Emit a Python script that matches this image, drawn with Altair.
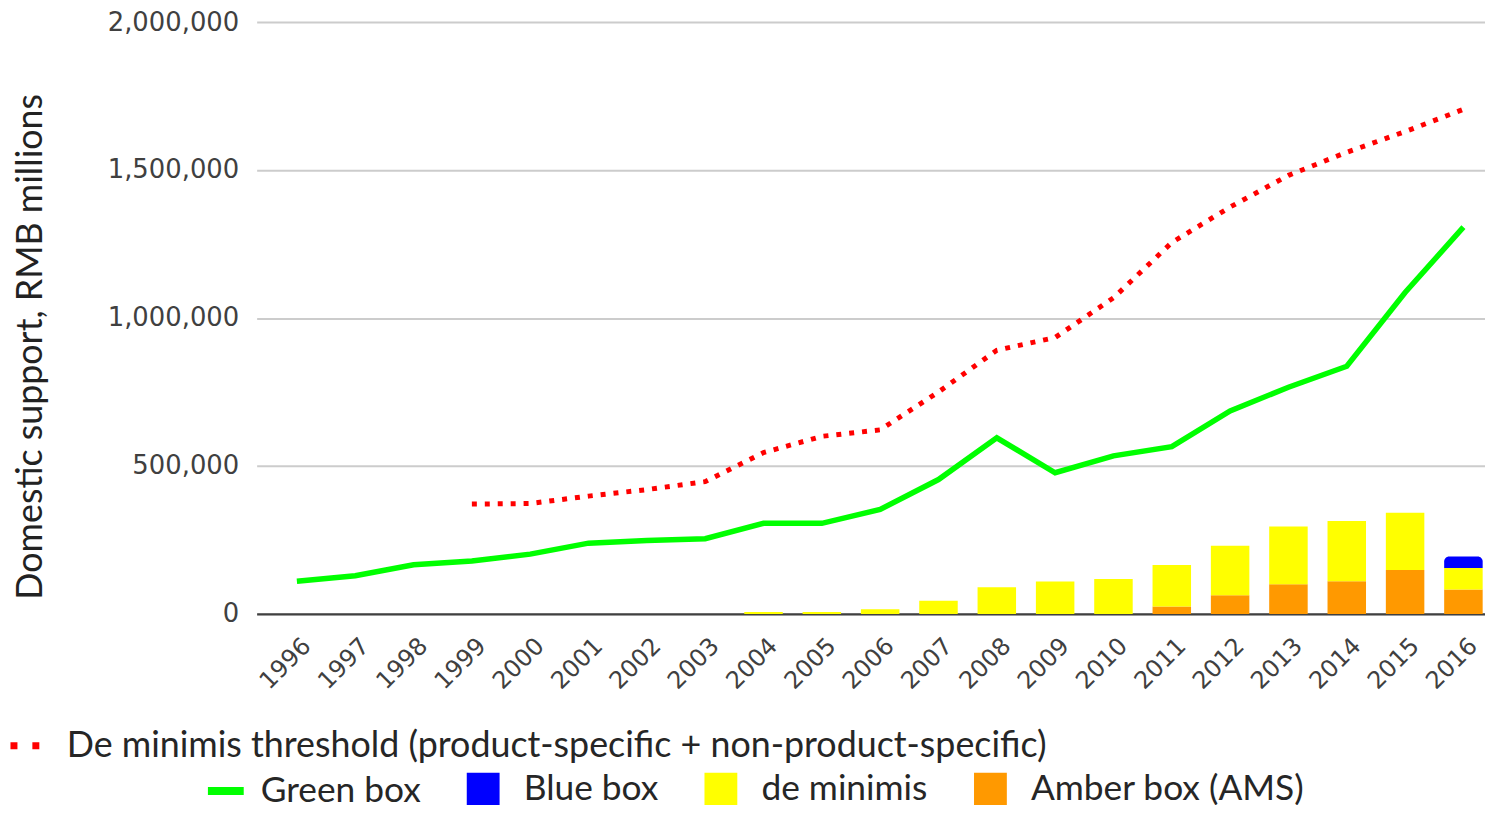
import altair as alt
import pandas as pd

# ---------------- data (RMB millions) ----------------
years = [str(y) for y in range(1996, 2017)]

green_box = [110000, 129000, 166000, 179000, 202000, 239000, 248000, 254000,
             306000, 306000, 353000, 454000, 595000, 477000, 534000, 565000,
             686000, 766000, 837000, 1086000, 1307000]

threshold_years = [str(y) for y in range(1999, 2017)]
threshold = [371000, 373000, 398000, 420000, 447000, 545000, 600000, 622000,
             750000, 891000, 934000, 1068000, 1255000, 1375000, 1482000,
             1560000, 1630000, 1705000]

bar_years = [str(y) for y in range(2004, 2017)]
de_minimis = [6000, 6000, 16000, 44000, 90000, 109000, 118000, 140000,
              167000, 195000, 204000, 194000, 73000]
amber_box = [0, 0, 0, 0, 0, 0, 0, 25000, 63000, 100000, 110000, 148000, 82000]
blue_box = [0, 0, 0, 0, 0, 0, 0, 0, 0, 0, 0, 0, 39000]

y_ticks = [0, 500000, 1000000, 1500000, 2000000]

THR = "De minimis threshold (product-specific + non-product-specific)"
GREEN = "Green box"
BLUE = "Blue box"
DEMIN = "de minimis"
AMBER = "Amber box (AMS)"

# ---------------- tables ----------------
green_df = pd.DataFrame({"year": years, "value": green_box, "series": GREEN})
thr_df = pd.DataFrame({"year": threshold_years, "value": threshold, "series": THR})

rows = []
for yr, a, d, b in zip(bar_years, amber_box, de_minimis, blue_box):
    for name, val, order in ((AMBER, a, 0), (DEMIN, d, 1), (BLUE, b, 2)):
        if val > 0:
            rows.append({"year": yr, "series": name, "value": val, "order": order})
bar_df = pd.DataFrame(rows)

FONT_TICK = "DejaVu Sans"
FONT_TEXT = "Lato"

x_enc = alt.X(
    "year:O",
    sort=years,
    scale=alt.Scale(domain=years, paddingInner=0.34, paddingOuter=0.2,
                    align=0.9, round=False),
    axis=alt.Axis(
        title=None,
        labelAngle=-45,
        labelAlign="right",
        labelBaseline="top",
        labelPadding=20,
        labelOffset=2,
        ticks=False,
        domainColor="#404040",
        domainWidth=2.5,
        labelFont=FONT_TICK,
        labelFontSize=24,
        labelColor="#404040",
        grid=False,
    ),
)

y_scale = alt.Scale(domain=[0, 2000000], nice=False)
y_axis = alt.Axis(
    title="Domestic support, RMB millions",
    values=y_ticks,
    format=",d",
    domain=False,
    ticks=False,
    grid=True,
    gridColor="#CCCCCC",
    gridWidth=2,
    labelFont=FONT_TICK,
    labelFontSize=26,
    labelColor="#404040",
    labelPadding=18,
    titleFont=FONT_TEXT,
    titleFontSize=36,
    titleFontWeight="normal",
    titleColor="#222222",
    titleAngle=-90,
    titleAlign="center",
    titleBaseline="middle",
    titleX=-227,
    titleY=326,
)

LEG_LABEL = dict(labelFont=FONT_TEXT, labelColor="#262626",
                 labelLimit=1400, padding=0, title=None, orient="none")

fill_scale = alt.Scale(domain=[BLUE, DEMIN, AMBER],
                       range=["#0000FF", "#FFFF00", "#FF9900"])
fill_legend = alt.Legend(
    legendX=210,
    legendY=753,
    direction="horizontal",
    symbolType="square",
    symbolSize=1089,
    symbolStrokeWidth=0,
    labelOffset=23,
    columnPadding=45,
    labelFontSize=35.5,
    **LEG_LABEL,
)

stacked = alt.Chart(bar_df).transform_stack(
    stack="value",
    groupby=["year"],
    as_=["v0", "v1"],
    sort=[alt.SortField("order", order="ascending")],
)

bars_low = stacked.transform_filter(alt.datum.series != BLUE).mark_bar().encode(
    x=x_enc,
    y=alt.Y("v0:Q", scale=y_scale, axis=y_axis),
    y2="v1:Q",
    fill=alt.Fill("series:N", scale=fill_scale, legend=fill_legend),
)

bars_top = stacked.transform_filter(alt.datum.series == BLUE).mark_bar(
    cornerRadiusTopLeft=5, cornerRadiusTopRight=5
).encode(
    x=x_enc,
    y=alt.Y("v0:Q", scale=y_scale, axis=y_axis),
    y2="v1:Q",
    fill=alt.Fill("series:N", scale=fill_scale, legend=fill_legend),
)

green_line = alt.Chart(green_df).mark_line(strokeWidth=5.5, strokeJoin="miter").encode(
    x=x_enc,
    y=alt.Y("value:Q", scale=y_scale, axis=y_axis),
    stroke=alt.Stroke(
        "series:N",
        scale=alt.Scale(domain=[GREEN], range=["#00FF00"]),
        legend=alt.Legend(
            legendX=-53,
            legendY=751,
            symbolType="stroke",
            symbolSize=1296,
            symbolStrokeWidth=8,
            labelOffset=13,
            labelFontSize=35.5,
            **LEG_LABEL,
        ),
    ),
)

thr_line = alt.Chart(thr_df).mark_line(
    strokeWidth=5, strokeDash=[5, 8], strokeCap="butt"
).encode(
    x=x_enc,
    y=alt.Y("value:Q", scale=y_scale, axis=y_axis),
    color=alt.Color(
        "series:N",
        scale=alt.Scale(domain=[THR], range=["#FF0000"]),
        legend=alt.Legend(
            legendX=-251,
            legendY=709,
            symbolType="stroke",
            symbolSize=900,
            symbolStrokeWidth=7,
            symbolDash=[7, 15],
            labelOffset=23,
            labelFontSize=36,
            **LEG_LABEL,
        ),
    ),
)

chart = alt.layer(bars_low, bars_top, green_line, thr_line).properties(
    width=1235,
    height=595,
    autosize=alt.AutoSizeParams(type="none"),
    padding={"left": 250, "top": 12, "right": 0, "bottom": 190},
).configure_view(stroke=None).configure_axis(labelOverlap=False)

chart.save("out.html", embed_options={"renderer": "svg", "actions": False})
